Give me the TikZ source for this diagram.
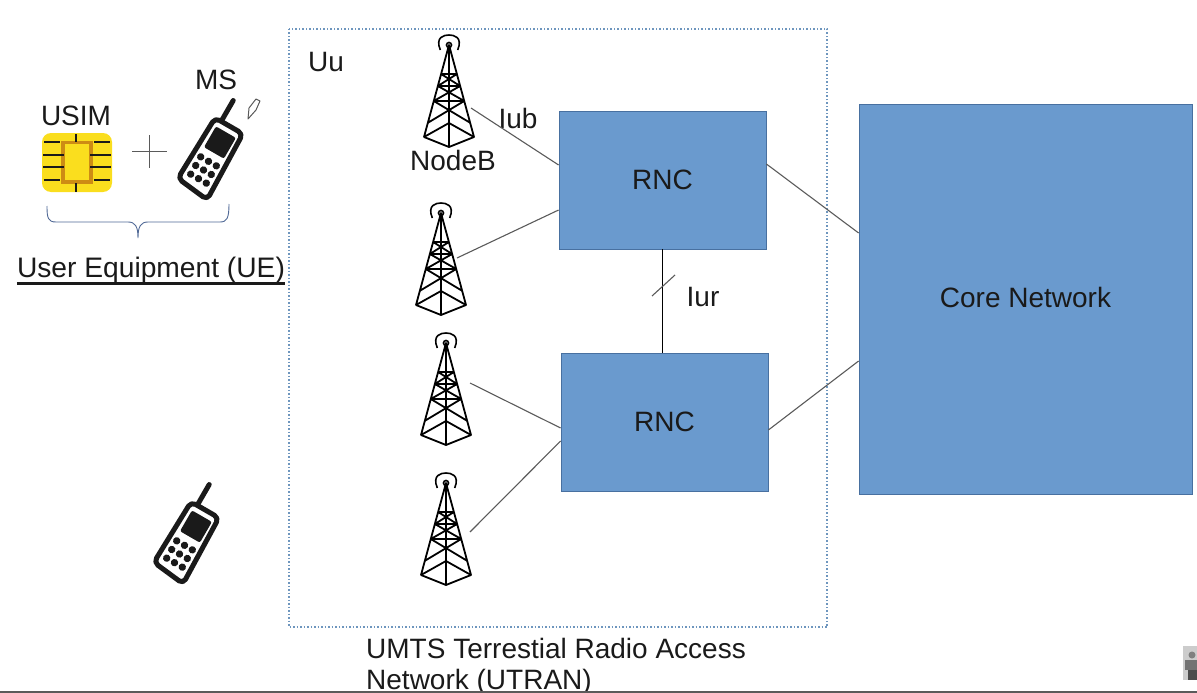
\documentclass[tikz,border=0pt]{standalone}
\usepackage{xcolor}
\usepackage{fontspec}
\setmainfont{Liberation Sans}
\usepackage{tikz}
\usetikzlibrary{arrows.meta, positioning, calc}
\definecolor{myblue}{RGB}{106,154,206}
\definecolor{myedge}{RGB}{72,112,160}
\definecolor{mydark}{RGB}{26,26,26}
\definecolor{mygray}{RGB}{90,90,90}
\definecolor{mydots}{RGB}{110,150,190}
\definecolor{mybrace}{RGB}{80,105,150}
\definecolor{chipyellow}{RGB}{250,222,30}
\definecolor{chiporange}{RGB}{205,140,20}
\tikzset{
  label/.style={font=\fontsize{28}{28}\selectfont, text=mydark, inner sep=0pt},
  netblock/.style={rectangle, draw=myedge, fill=myblue, line width=0.8pt,
    font=\fontsize{28}{28}\selectfont, text=mydark},
  link/.style={line width=1.1pt, color=mygray},
  tower/.pic={
    \draw[line width=1.8pt, color=black, line join=round]
      (-25,92) -- (0,0) -- (25,92) -- (0,102) -- cycle
      (0,0) -- (0,102)
      (-25,92) -- (0,78) -- (25,92)
      (-15.2,56) -- (15.2,56)
      (-15.2,56) -- (21.5,78) (15.2,56) -- (-21.5,78)
      (-11.1,41) -- (11.1,41)
      (-11.1,41) -- (15.2,56) (11.1,41) -- (-15.2,56)
      (-7.9,29) -- (7.9,29)
      (-7.9,29) -- (11.1,41) (7.9,29) -- (-11.1,41);
    \draw[line width=1.6pt, color=black] (0,0) circle (2.5);
    \draw[line width=1.6pt, color=black] (-8.7,5) .. controls (-14,-8) and (-5,-10) .. (0,-10)
      .. controls (5,-10) and (14,-8) .. (8.7,5);
  },
  phone/.pic={
    \draw[line width=5pt, color=mydark, line cap=round] (-9,-36) -- (-9,-60);
    \draw[line width=5pt, color=mydark, fill=white, rounded corners=5pt, line join=round]
      (-16,-36) -- (16,-36) -- (18,39) -- (-18,35) -- cycle;
    \fill[mydark, rounded corners=2pt] (-11,-29) rectangle (12,-5);
    \foreach \px in {-9,0,9} {
      \foreach \py in {5,15,25} {
        \fill[mydark] (\px,\py) circle (3.7);
      }
    }
  }
}
\begin{document}
\begin{tikzpicture}[x=1pt, y=-1pt]
  \useasboundingbox (0,0) rectangle (1197,693);

  \draw[line width=1.3pt, color=mydots, dash pattern=on 1.5pt off 2pt] (289,29) rectangle (827,627);
  \node[label, anchor=west] (uu) at (308,62) {Uu};

  \node[netblock, minimum width=207pt, minimum height=138pt] (rncA) at (662.5,180) {RNC};
  \node[netblock, minimum width=207pt, minimum height=138pt] (rncB) at (664.5,422) {RNC};
  \node[netblock, minimum width=333pt, minimum height=390pt] (core) at (1025.5,299) {};
  \node[label] (coretext) at (1025.5,297) {Core Network};

  \pic at (449,45) {tower};
  \pic at (441,213) {tower};
  \pic at (446,343) {tower};
  \pic at (446,483) {tower};
  \coordinate (towerA) at (471,108);
  \coordinate (towerB) at (457,258);
  \coordinate (towerC) at (470,383);
  \coordinate (towerD) at (470,532);

  \node[label] (nodeb) at (453,160) {NodeB};
  \node[label] (iub) at (518,118) {Iub};
  \node[label] (iur) at (703,297) {Iur};

  \draw[link] (towerA) -- ($(rncA.west)+(0,-15)$);
  \draw[link] (towerB) -- ($(rncA.west)+(0,30)$);
  \draw[link] (towerC) -- ($(rncB.west)+(0,6)$);
  \draw[link] (towerD) -- ($(rncB.west)+(0,19)$);
  \draw[link] ($(rncA.east)+(0,-16)$) -- ($(core.west)+(0,-66)$);
  \draw[link] ($(rncB.east)+(0,8)$) -- ($(core.west)+(0,62)$);
  \draw[line width=1pt, color=black] (rncA.south) -- (rncB.north -| rncA.south);
  \draw[link] (652,296) -- (675,275);

  \node[label] (usim) at (76,116) {USIM};
  \node[label] (ms) at (216,80) {MS};

  \fill[chipyellow, rounded corners=9pt] (42,133) rectangle (112,192);
  \fill[chiporange] (61,141) rectangle (93,184);
  \fill[chipyellow] (65,144) rectangle (89,180);
  \draw[line width=1.6pt, color=mydark]
    (44,142) -- (60,142) (43,155) -- (64,155) (43,167) -- (64,167) (44,180) -- (60,180)
    (94,142) -- (110,142) (90,155) -- (111,155) (90,167) -- (111,167) (94,180) -- (110,180)
    (76,134) -- (76,142) (76,183) -- (76,192);

  \draw[line width=0.9pt, color=mygray] (132,151) -- (167,151) (149,135) -- (149,168);
  \pic[rotate=-30] at (211,157) {phone};
  \draw[line width=1pt, color=mygray, fill=white, line join=round]
    (248,119) -- (249,108) -- (256,99) -- (260,101) -- (256,110) -- cycle;

  \draw[line width=0.9pt, color=mybrace] (47,206) .. controls (47,218) and (48,222) .. (56,222)
    -- (128,222) .. controls (135,222) and (138,226) .. (138,238)
    .. controls (138,226) and (141,222) .. (148,222)
    -- (220,222) .. controls (227,222) and (229,218) .. (229,204);
  \node[label, font=\fontsize{28.2}{28}\selectfont] (ue) at (151,270) {User Equipment (UE)};
  \draw[line width=2.6pt, color=mydark] (ue.south west) -- (ue.south east);

  \pic[rotate=-30] at (187,541) {phone};

  \node[label, anchor=base west] (utran) at (366,658) {UMTS Terrestial Radio Access};
  \node[label, anchor=base west] (utrantwo) at (366,689) {Network (UTRAN)};

  \fill[gray!40!white] (1183,646) rectangle (1197,680);
  \fill[black!55] (1185,660) rectangle (1197,670);
  \fill[black!70] (1188,670) rectangle (1197,680);
  \fill[black!50] (1192,655) circle (3.5);
  \fill[mygray] (0,691) rectangle (1197,693);
\end{tikzpicture}
\end{document}
